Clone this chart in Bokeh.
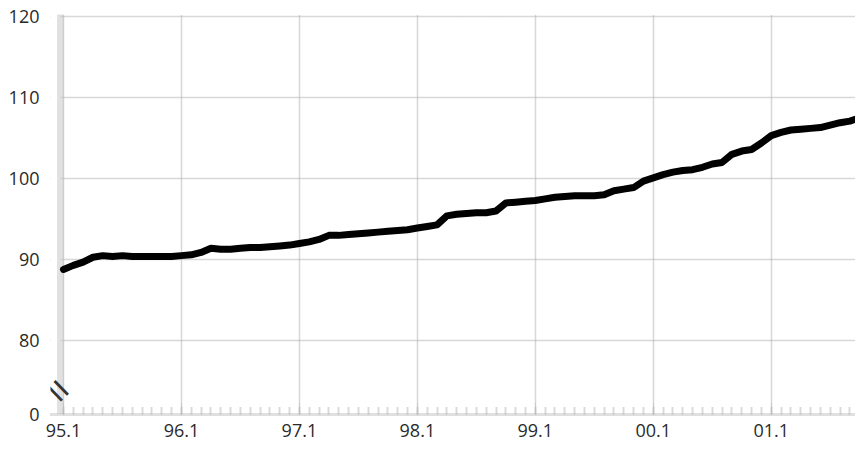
from bokeh.plotting import figure
from bokeh.models import FixedTicker, Range1d, Label, Span, BoxAnnotation
from bokeh.embed import file_html
from bokeh.resources import INLINE

# monthly index values, 95.1 .. 01.10
values = [88.8, 89.3, 89.7, 90.3, 90.5, 90.4, 90.5, 90.4, 90.4, 90.4, 90.4, 90.4,
          90.5, 90.6, 90.9, 91.4, 91.3, 91.3, 91.4, 91.5, 91.5, 91.6, 91.7, 91.8,
          92.0, 92.2, 92.5, 93.0, 93.0, 93.1, 93.2, 93.3, 93.4, 93.5, 93.6, 93.7,
          93.9, 94.1, 94.3, 95.4, 95.6, 95.7, 95.8, 95.8, 96.0, 97.0, 97.1, 97.2,
          97.3, 97.5, 97.7, 97.8, 97.9, 97.9, 97.9, 98.0, 98.5, 98.7, 98.9, 99.7,
          100.1, 100.5, 100.8, 101.0, 101.1, 101.4, 101.8, 102.0, 103.0, 103.4, 103.6, 104.4,
          105.3, 105.7, 106.0, 106.1, 106.2, 106.3, 106.6, 106.9, 107.1, 107.5]
months = list(range(len(values)))
year_labels = ["95.1", "96.1", "97.1", "98.1", "99.1", "00.1", "01.1"]
year_ticks = [12 * i for i in range(len(year_labels))]
y_ticks = [80, 90, 100, 110, 120]
y_zero_pos = 70.9  # axis break: "0" drawn at bottom
axis_x = -0.3      # where the (hand-drawn) y axis band sits

p = figure(width=855, height=446, output_backend="svg", toolbar_location=None,
           x_range=Range1d(-1.32, 80.57), y_range=Range1d(y_zero_pos, 120.25),
           min_border_left=50, min_border_right=0, min_border_top=14, min_border_bottom=32)
p.outline_line_color = None
p.background_fill_color = "white"

font = "Open Sans"
# x axis
p.xaxis.ticker = FixedTicker(ticks=year_ticks, minor_ticks=months)
p.xaxis.major_label_overrides = {t: l for t, l in zip(year_ticks, year_labels)}
p.xaxis.major_tick_in = 12
p.xaxis.major_tick_out = 0
p.xaxis.minor_tick_in = 8
p.xaxis.minor_tick_out = 0
p.xaxis.minor_tick_line_color = "#b8b8b8"
p.xaxis.minor_tick_line_width = 2
p.xaxis.minor_tick_line_dash = "1 1"
p.xaxis.major_tick_line_color = "#b8b8b8"
p.xaxis.major_tick_line_dash = "1 1"
p.xaxis.axis_line_color = "#c0c0c0"
p.xaxis.axis_line_width = 3
p.xaxis.axis_line_dash = "1 1"
p.xaxis.major_label_standoff = 9

# y axis (labels only; band drawn as a span)
p.yaxis.ticker = FixedTicker(ticks=[y_zero_pos] + y_ticks)
p.yaxis.major_label_overrides = {y_zero_pos: "0"}
p.yaxis.major_tick_line_color = None
p.yaxis.minor_tick_line_color = None
p.yaxis.axis_line_color = None
p.yaxis.major_label_standoff = 5

for ax in (p.xaxis, p.yaxis):
    ax.major_label_text_font = font
    ax.major_label_text_font_size = "18px"
    ax.major_label_text_color = "#2a2a2a"

p.xgrid.ticker = FixedTicker(ticks=year_ticks)
p.ygrid.ticker = FixedTicker(ticks=y_ticks)
for g in (p.xgrid, p.ygrid):
    g.grid_line_color = "#b0b0b0"
    g.grid_line_dash = "1 1"
    g.grid_line_width = 1.5

# blank strip left of the axis band, then the band itself
p.add_layout(BoxAnnotation(right=axis_x, fill_color="white", fill_alpha=1.0,
                           line_color=None, level="underlay"))
p.add_layout(Span(location=axis_x, dimension="height", line_color="#c4c4c4",
                  line_width=7, line_dash="1 1", level="underlay"))

p.line(months, values, line_color="black", line_width=7, line_join="round", line_cap="round")

# axis break mark
p.add_layout(Label(x=9, y=25, x_units="screen", y_units="screen", text="=",
                   angle=-0.8, text_font=font, text_font_size="42px",
                   text_align="center", text_baseline="middle",
                   text_color="#333333"))

open("out.html", "w").write(file_html(p, INLINE))
